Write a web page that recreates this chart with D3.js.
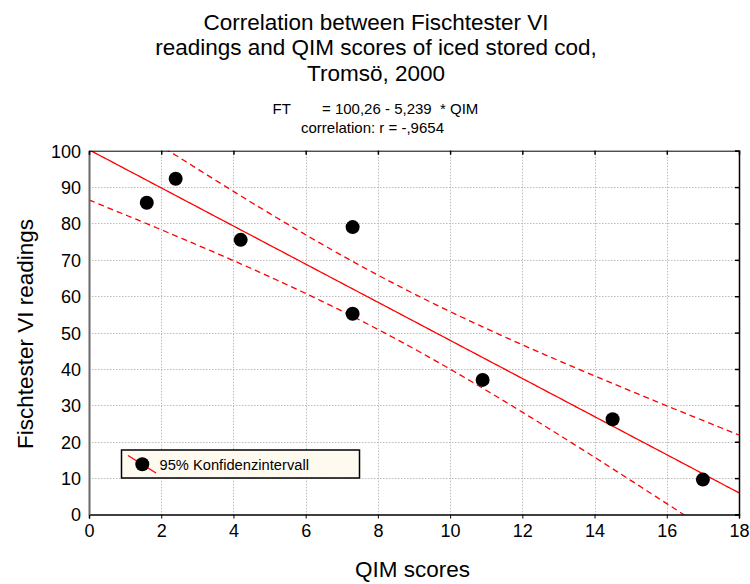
<!DOCTYPE html>
<html>
<head>
<meta charset="utf-8">
<script src="https://cdn.jsdelivr.net/npm/d3@7"></script>
<style>
  html, body { margin: 0; padding: 0; background: #fff; }
  text { font-family: "Liberation Sans", Arial, sans-serif; fill: #000; }
</style>
</head>
<body>
<svg id="chart" width="750" height="584"></svg>
<script>
// QIM score and Fischtester VI reading for each sample
const qimScores = [1.6, 2.4, 4.2, 7.3, 7.3, 10.9, 14.5, 17.0];
const ftReadings = [85.7, 92.3, 75.5, 79.0, 55.2, 37.0, 26.2, 9.6];

// Fitted line as stated in the subtitle
const intercept = 100.26;
const slope = -5.239;

const xTicks = [0, 2, 4, 6, 8, 10, 12, 14, 16, 18];
const yTicks = [0, 10, 20, 30, 40, 50, 60, 70, 80, 90, 100];

const titleLines = [
  "Correlation between Fischtester VI",
  "readings and QIM scores of iced stored cod,",
  "Tromsö, 2000"
];

const svg = d3.select("#chart");
const plotL = 89, plotR = 739, plotT = 150.7, plotB = 514.5;

const x = d3.scaleLinear().domain([0, 18]).range([plotL, plotR]);
const y = d3.scaleLinear().domain([0, 100]).range([plotB, plotT]);

// Titles
svg.selectAll("text.title").data(titleLines).enter().append("text")
  .attr("class", "title")
  .attr("x", 376).attr("y", (d, i) => 29.5 + i * 25.8)
  .attr("text-anchor", "middle")
  .style("font-size", "22.5px")
  .text(d => d);

svg.append("text").attr("x", 272.5).attr("y", 114)
  .style("font-size", "15px").text("FT");
svg.append("text").attr("x", 322).attr("y", 114)
  .attr("xml:space", "preserve")
  .style("font-size", "15px").text("= 100,26 - 5,239  * QIM");
svg.append("text").attr("x", 372.5).attr("y", 133)
  .attr("text-anchor", "middle")
  .style("font-size", "15px").text("correlation: r = -,9654");

// Grid
const grid = svg.append("g").attr("stroke", "#bdbdbd").attr("stroke-width", 1)
  .attr("stroke-dasharray", "1.5,1.5");
grid.selectAll("line.gx").data(xTicks.slice(1, -1)).enter().append("line")
  .attr("x1", d => Math.round(x(d)) + 0.5).attr("x2", d => Math.round(x(d)) + 0.5)
  .attr("y1", plotT).attr("y2", plotB);
grid.selectAll("line.gy").data(yTicks.slice(1, -1)).enter().append("line")
  .attr("x1", plotL).attr("x2", plotR)
  .attr("y1", d => Math.round(y(d)) + 0.5).attr("y2", d => Math.round(y(d)) + 0.5);

// Clip for fit line and confidence band
svg.append("clipPath").attr("id", "plotclip").append("rect")
  .attr("x", plotL).attr("y", plotT).attr("width", plotR - plotL).attr("height", plotB - plotT);

// 95% confidence band of the mean response
const n = qimScores.length;
const xMean = d3.mean(qimScores);
const sxx = d3.sum(qimScores, v => (v - xMean) ** 2);
const sse = d3.sum(qimScores, (v, i) => (ftReadings[i] - (intercept + slope * v)) ** 2);
const sErr = Math.sqrt(sse / (n - 2));
const tCrit = 2.4469; // t(0.975, df = 6)
const xs = d3.range(0, 18.001, 0.1);
const fit = v => intercept + slope * v;
const half = v => tCrit * sErr * Math.sqrt(1 / n + (v - xMean) ** 2 / sxx);

const lineGen = f => d3.line().x(v => x(v)).y(v => y(f(v)))(xs);

const plot = svg.append("g").attr("clip-path", "url(#plotclip)");
plot.append("path").attr("d", lineGen(fit))
  .attr("fill", "none").attr("stroke", "#ff0000").attr("stroke-width", 1.3);
[v => fit(v) + half(v), v => fit(v) - half(v)].forEach(f => {
  plot.append("path").attr("d", lineGen(f))
    .attr("fill", "none").attr("stroke", "#ff0000").attr("stroke-width", 1.3)
    .attr("stroke-dasharray", "6,4");
});

// Axes frame
const xAxis = d3.axisBottom(x).tickValues(xTicks).tickSize(4).tickPadding(6);
const gx = svg.append("g").attr("transform", `translate(0,${plotB})`).call(xAxis);
gx.select(".domain").attr("stroke", "#000").attr("stroke-width", 1.5);
gx.selectAll("text").style("font-size", "18px").style("font-family", "Liberation Sans, Arial, sans-serif");

const yAxis = d3.axisLeft(y).tickValues(yTicks).tickSize(0).tickPadding(8);
const gy = svg.append("g").attr("transform", `translate(${plotL},0)`).call(yAxis);
gy.select(".domain").attr("stroke", "#6a6a6a").attr("stroke-width", 2);
gy.selectAll("text").style("font-size", "18px").style("font-family", "Liberation Sans, Arial, sans-serif")
  .attr("dy", "0.36em");

const gTop = svg.append("g").attr("transform", `translate(0,${plotT})`)
  .call(d3.axisTop(x).tickValues(xTicks).tickSize(-4).tickFormat(""));
gTop.select(".domain").attr("stroke", "#000").attr("stroke-width", 1);
gTop.selectAll("line").attr("stroke-width", 1.5);

const gRight = svg.append("g").attr("transform", `translate(${plotR},0)`)
  .call(d3.axisRight(y).tickValues(yTicks).tickSize(-4).tickFormat(""));
gRight.select(".domain").attr("stroke", "#000").attr("stroke-width", 1.5);
gRight.selectAll("line").attr("stroke-width", 1.5);

// Points
svg.append("g").selectAll("circle").data(qimScores).enter().append("circle")
  .attr("cx", d => x(d)).attr("cy", (d, i) => y(ftReadings[i]))
  .attr("r", 7).attr("fill", "#000");

// Axis titles
svg.append("text").attr("x", 412.5).attr("y", 577)
  .attr("text-anchor", "middle").style("font-size", "22.5px").text("QIM scores");
svg.append("text").attr("transform", "translate(33,334) rotate(-90)")
  .attr("text-anchor", "middle").style("font-size", "22.5px").text("Fischtester VI readings");

// Legend
const lg = svg.append("g");
lg.append("rect").attr("x", 121.5).attr("y", 450).attr("width", 238).attr("height", 28)
  .attr("fill", "#fffaf0").attr("stroke", "#000").attr("stroke-width", 1.5);
lg.append("line").attr("x1", 128).attr("y1", 455.5).attr("x2", 156).attr("y2", 473)
  .attr("stroke", "#ff0000").attr("stroke-width", 1.3);
lg.append("circle").attr("cx", 142.3).attr("cy", 464.3).attr("r", 7).attr("fill", "#000");
lg.append("text").attr("x", 159.5).attr("y", 469.5).style("font-size", "14.7px")
  .text("95% Konfidenzintervall");
</script>
</body>
</html>
